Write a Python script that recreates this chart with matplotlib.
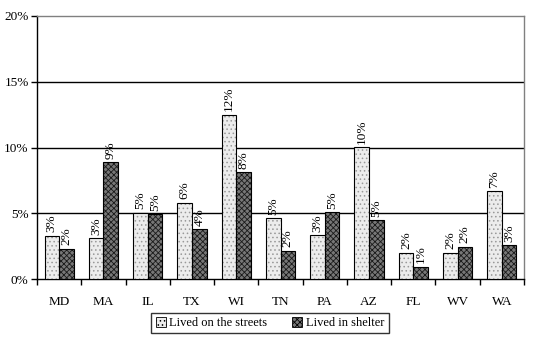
import matplotlib.pyplot as plt
import numpy as np
from matplotlib.patches import Patch
from matplotlib.ticker import FixedLocator, FuncFormatter

plt.rcParams["font.family"] = ["Liberation Serif", "DejaVu Serif"]
plt.rcParams["hatch.linewidth"] = 0.6

states = ["MD", "MA", "IL", "TX", "WI", "TN", "PA", "AZ", "FL", "WV", "WA"]
streets = [3.3, 3.1, 5.05, 5.8, 12.5, 4.65, 3.35, 10.05, 2.0, 2.0, 6.7]
shelter = [2.3, 8.9, 4.95, 3.8, 8.15, 2.15, 5.1, 4.5, 0.95, 2.45, 2.55]
streets_lbl = ["3%", "3%", "5%", "6%", "12%", "5%", "3%", "10%", "2%", "2%", "7%"]
shelter_lbl = ["2%", "9%", "5%", "4%", "8%", "2%", "5%", "5%", "1%", "2%", "3%"]

fig = plt.figure(figsize=(5.43, 3.4), dpi=100)
ax = fig.add_axes([37 / 543, 61 / 340, 487 / 543, 263 / 340])

x = np.arange(len(states))
w = 0.33

b1 = ax.bar(x - w / 2, streets, w, facecolor="#ececec", edgecolor="black",
            linewidth=0.8, hatch="....", zorder=3)
b2 = ax.bar(x + w / 2, shelter, w, facecolor="#777777", edgecolor="black",
            linewidth=0.8, hatch="xxxxxx", zorder=3)
for bar in b1:
    bar._hatch_color = (0.6, 0.6, 0.6, 1)
for bar in b2:
    bar._hatch_color = (0.1, 0.1, 0.1, 1)

for rect, lbl in zip(b1, streets_lbl):
    ax.text(rect.get_x() + rect.get_width() / 2, rect.get_height() + 0.25, lbl,
            rotation=90, ha="center", va="bottom", fontsize=9.5, zorder=4)
for rect, lbl in zip(b2, shelter_lbl):
    ax.text(rect.get_x() + rect.get_width() / 2, rect.get_height() + 0.25, lbl,
            rotation=90, ha="center", va="bottom", fontsize=9.5, zorder=4)

ax.set_xlim(-0.5, len(states) - 0.5)
ax.set_ylim(0, 20)
ax.set_yticks([0, 5, 10, 15, 20])
ax.yaxis.set_major_formatter(FuncFormatter(lambda v, p: f"{v:.0f}%"))
for yv in [5, 10, 15]:
    ax.axhline(yv, color="black", linewidth=1, zorder=1)

ax.set_xticks(x)
ax.set_xticklabels(states)
ax.xaxis.set_minor_locator(FixedLocator(np.arange(-0.5, len(states), 1)))
ax.tick_params(axis="x", which="major", length=0, pad=12, labelsize=9.5)
ax.tick_params(axis="x", which="minor", length=4, direction="out", width=1)
ax.tick_params(axis="y", length=4, direction="out", width=1, labelsize=9.5, pad=2)

ax.spines["top"].set_color("#808080")
ax.spines["right"].set_color("#808080")
ax.spines["left"].set_color("black")
ax.spines["bottom"].set_color("black")
for s in ax.spines.values():
    s.set_linewidth(1)

handles = [
    Patch(facecolor="#ececec", edgecolor="black", hatch="....", linewidth=0.6),
    Patch(facecolor="#777777", edgecolor="black", hatch="xxxxxx", linewidth=0.6),
]
leg = fig.legend(handles, ["Lived on the streets", "Lived in shelter"],
                 loc="center", bbox_to_anchor=(270 / 543, 1 - 323 / 340),
                 ncol=2, fontsize=9, frameon=True, fancybox=False,
                 handlelength=0.8, handleheight=0.8, handletextpad=0.3,
                 columnspacing=2.0, borderpad=0.35, edgecolor="black")
leg.get_frame().set_linewidth(1)

fig.savefig("out.png", dpi=100)
